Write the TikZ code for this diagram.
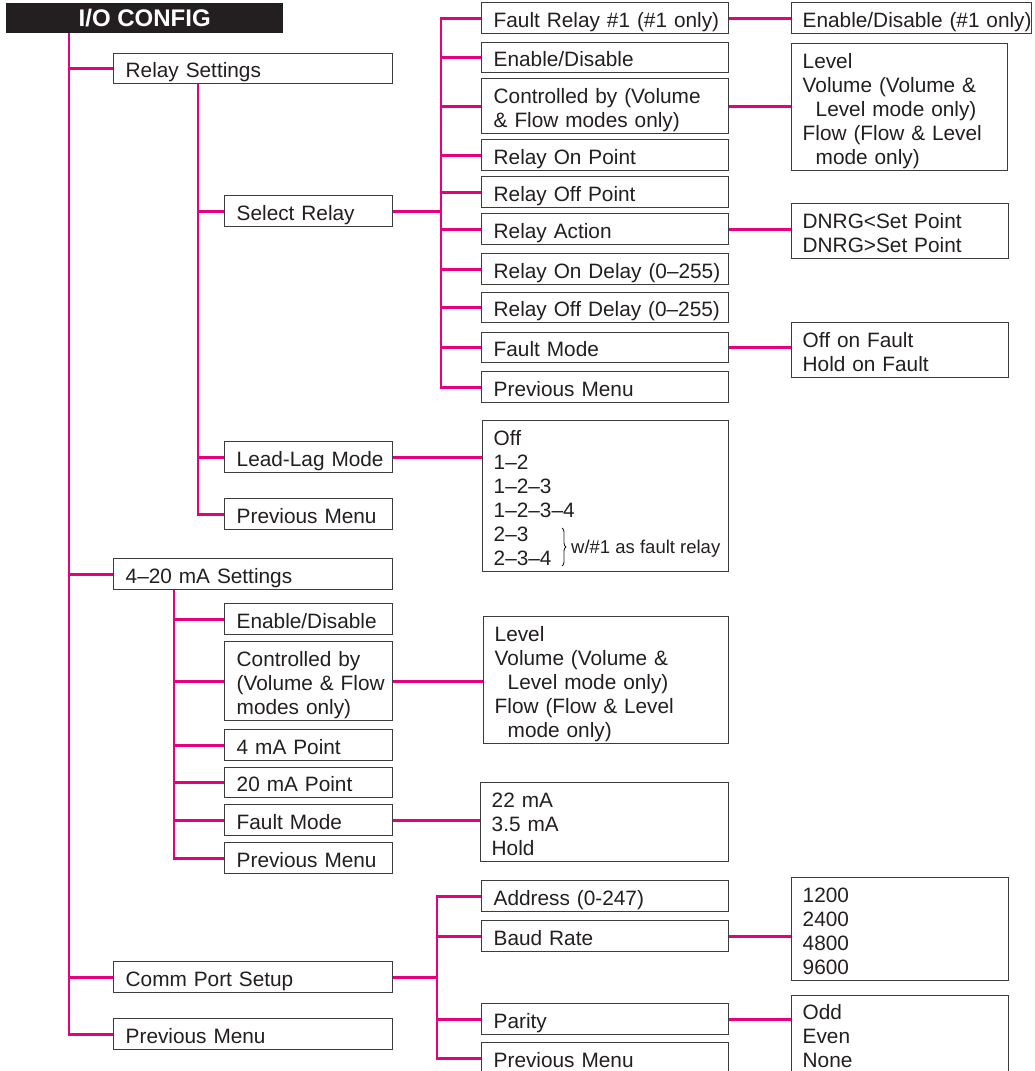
\documentclass[tikz,border=0pt]{standalone}
\usepackage{fontspec}
\setmainfont{Liberation Sans}
\usetikzlibrary{decorations.pathreplacing}
\definecolor{linkc}{HTML}{E6007E}
\definecolor{boxc}{HTML}{3C3C3C}
\definecolor{txtc}{HTML}{231F20}
\definecolor{hdrc}{HTML}{231F20}
\newcommand\tstrutx{\rule{0pt}{22pt}}
\newcommand\bstrutx{\rule[-4pt]{0pt}{4pt}}
\hyphenpenalty=10000
\exhyphenpenalty=10000
\hbadness=10000
\hfuzz=50pt
\begin{document}
\begin{tikzpicture}[x=1pt,y=-1pt,
  font=\fontsize{20.8}{24}\selectfont,
  box/.style={draw=boxc, line width=1.4pt, anchor=north west, inner xsep=12pt, inner ysep=0pt,
    align=left, text=txtc, execute at begin node=\tstrutx, execute at end node=\bstrutx},
  link/.style={draw=linkc, line width=2.8pt}]
\fill[white] (0,0) rectangle (1034,1071);
\useasboundingbox (0,0) rectangle (1034,1071);

% header
\node[fill=hdrc, anchor=north west, minimum width=277pt, minimum height=30pt, inner sep=0pt,
  text=white, font=\fontsize{24}{24}\selectfont\bfseries] (hdr) at (6,3) {I/O CONFIG};

% level 1
\node[box, text width=255pt, minimum height=30pt] (rs) at (113,53) {\mbox{Relay Settings}};
\node[box, text width=255pt, minimum height=31pt] (ma) at (113,558) {\mbox{4–20 mA Settings}};
\node[box, text width=255pt, minimum height=31pt] (cp) at (113,961) {\mbox{Comm Port Setup}};
\node[box, text width=255pt, minimum height=31pt] (pm0) at (113,1018) {\mbox{Previous Menu}};

% relay level 2
\node[box, text width=144pt, minimum height=31pt] (sel) at (224,195) {\mbox{Select Relay}};
\node[box, text width=144pt, minimum height=31pt] (ll) at (224,441) {\mbox{Lead-Lag Mode}};
\node[box, text width=144pt, minimum height=31pt] (pm1) at (224,498) {\mbox{Previous Menu}};

% relay level 3
\node[box, text width=223pt, minimum height=31pt] (fr) at (481,2) {\mbox{Fault Relay \#1 (\#1 only)}};
\node[box, text width=223pt, minimum height=30pt] (ed) at (481,42) {\mbox{Enable/Disable}};
\node[box, text width=223pt, minimum height=55pt] (cb) at (481,78) {\mbox{Controlled by (Volume}\\\mbox{\& Flow modes only)}};
\node[box, text width=223pt, minimum height=31pt] (onp) at (481,139) {\mbox{Relay On Point}};
\node[box, text width=223pt, minimum height=31pt] (offp) at (481,176) {\mbox{Relay Off Point}};
\node[box, text width=223pt, minimum height=31pt] (act) at (481,213) {\mbox{Relay Action}};
\node[box, text width=223pt, minimum height=31pt] (ond) at (481,253) {\mbox{Relay On Delay (0–255)}};
\node[box, text width=223pt, minimum height=30pt] (offd) at (481,292) {\mbox{Relay Off Delay (0–255)}};
\node[box, text width=223pt, minimum height=30pt] (fm) at (481,332) {\mbox{Fault Mode}};
\node[box, text width=223pt, minimum height=31pt] (pm2) at (481,371) {\mbox{Previous Menu}};

% relay level 4
\node[box, text width=218pt, minimum height=31pt, inner xsep=11pt] (en1) at (791,2) {\mbox{Enable/Disable (\#1 only)}};
\node[box, text width=194pt, minimum height=127pt, inner xsep=11pt] (lvlA) at (791,43)
  {Level\\\mbox{Volume (Volume \&}\\\hspace*{13pt}\mbox{Level mode only)}\\\mbox{Flow (Flow \& Level}\\\hspace*{13pt}\mbox{mode only)}};
\node[box, text width=195pt, minimum height=55pt, inner xsep=11pt] (dnrg) at (791,203) {\mbox{DNRG<Set Point}\\\mbox{DNRG>Set Point}};
\node[box, text width=195pt, minimum height=55pt, inner xsep=11pt] (oof) at (791,322) {\mbox{Off on Fault}\\\mbox{Hold on Fault}};

% lead-lag options
\node[box, text width=224pt, minimum height=151pt, inner xsep=11pt] (opts) at (482,420)
  {Off\\1–2\\1–2–3\\1–2–3–4\\2–3\\2–3–4};
\draw[decorate, decoration={brace, amplitude=4pt}, draw=txtc, line width=0.9pt] (562,528) -- (562,566);
\node[anchor=west, inner sep=0pt, text=txtc, font=\fontsize{18.5}{20}\selectfont] (note) at (571,549) {w/\#1 as fault relay};

% 4-20 mA level 2
\node[box, text width=144pt, minimum height=31pt] (ma1) at (224,603) {\mbox{Enable/Disable}};
\node[box, text width=144pt, minimum height=79pt] (ma2) at (224,641) {\mbox{Controlled by}\\\mbox{(Volume \& Flow}\\\mbox{modes only)}};
\node[box, text width=144pt, minimum height=31pt] (ma3) at (224,729) {\mbox{4 mA Point}};
\node[box, text width=144pt, minimum height=30pt] (ma4) at (224,767) {\mbox{20 mA Point}};
\node[box, text width=144pt, minimum height=31pt] (ma5) at (224,804) {\mbox{Fault Mode}};
\node[box, text width=144pt, minimum height=31pt] (ma6) at (224,842) {\mbox{Previous Menu}};

% 4-20 mA level 3
\node[box, text width=223pt, minimum height=127pt, inner xsep=11pt] (lvlB) at (483,616)
  {Level\\\mbox{Volume (Volume \&}\\\hspace*{13pt}\mbox{Level mode only)}\\\mbox{Flow (Flow \& Level}\\\hspace*{13pt}\mbox{mode only)}};
\node[box, text width=226pt, minimum height=79pt, inner xsep=11pt] (mavals) at (480,782) {\mbox{22 mA}\\\mbox{3.5 mA}\\Hold};

% comm port level 2
\node[box, text width=223pt, minimum height=31pt] (addr) at (481,880) {\mbox{Address (0-247)}};
\node[box, text width=223pt, minimum height=31pt] (baud) at (481,920) {\mbox{Baud Rate}};
\node[box, text width=223pt, minimum height=31pt] (par) at (481,1003) {Parity};
\node[box, text width=223pt, minimum height=31pt] (pm3) at (481,1042) {\mbox{Previous Menu}};

% comm port level 3
\node[box, text width=195pt, minimum height=103pt, inner xsep=11pt] (bauds) at (791,877) {1200\\2400\\4800\\9600};
\node[box, text width=195pt, minimum height=77pt, inner xsep=11pt] (parv) at (791,995) {Odd\\Even\\None};

% trunk x positions
\coordinate (tA) at (69,0);
\coordinate (tB) at (198,0);
\coordinate (tC) at (441,0);
\coordinate (tD) at (174,0);
\coordinate (tE) at (437,0);

% connectors
\draw[link] (hdr.south -| tA) |- (pm0.west);
\foreach \n in {rs,ma,cp} \draw[link] (tA |- \n.west) -- (\n.west);

\draw[link] (rs.south -| tB) |- (pm1.west);
\foreach \n in {sel,ll} \draw[link] (tB |- \n.west) -- (\n.west);

\draw[link] (fr.west) -| (tC |- pm2.west) -- (pm2.west);
\foreach \n in {ed,cb,onp,offp,act,ond,offd,fm} \draw[link] (tC |- \n.west) -- (\n.west);
\draw[link] (sel.east) -- (sel.east -| tC);

\draw[link] (fr.east) -- (fr.east -| en1.west);
\draw[link] (cb.east) -- (cb.east -| lvlA.west);
\draw[link] (act.east) -- (act.east -| dnrg.west);
\draw[link] (fm.east) -- (fm.east -| oof.west);
\draw[link] (ll.east) -- (ll.east -| opts.west);

\draw[link] (ma.south -| tD) |- (ma6.west);
\foreach \n in {ma1,ma2,ma3,ma4,ma5} \draw[link] (tD |- \n.west) -- (\n.west);
\draw[link] (ma2.east) -- (ma2.east -| lvlB.west);
\draw[link] (ma5.east) -- (ma5.east -| mavals.west);

\draw[link] (addr.west) -| (tE |- pm3.west) -- (pm3.west);
\foreach \n in {baud,par} \draw[link] (tE |- \n.west) -- (\n.west);
\draw[link] (cp.east) -- (cp.east -| tE);
\draw[link] (baud.east) -- (baud.east -| bauds.west);
\draw[link] (par.east) -- (par.east -| parv.west);
\end{tikzpicture}
\end{document}
